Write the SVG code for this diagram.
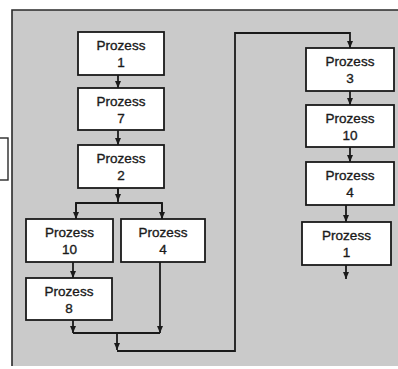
<svg xmlns="http://www.w3.org/2000/svg" width="398" height="369" viewBox="0 0 398 369">
<style>
.box{fill:#fff;stroke:#1a1a1a;stroke-width:1.8}
.t{font-family:"Liberation Sans",Arial,sans-serif;font-size:13.5px;fill:#1a1a1a;stroke:#1a1a1a;stroke-width:0.35;text-anchor:middle}
.c{fill:none;stroke:#1a1a1a;stroke-width:1.8}
</style>
<defs>
<marker id="ah" markerUnits="userSpaceOnUse" markerWidth="8" markerHeight="8" refX="7" refY="4" orient="auto">
<path d="M0,1 L7,4 L0,7 Z" fill="#1a1a1a"/>
</marker>
</defs>
<rect x="0" y="0" width="398" height="369" fill="#fff"/>
<rect x="12" y="10" width="390" height="356" fill="#cacaca"/>
<path d="M12,366 V10 H398" fill="none" stroke="#2a2a2a" stroke-width="1.6"/>
<rect x="-2" y="138" width="10" height="42" fill="#fff" stroke="#2a2a2a" stroke-width="1.4"/>
<g id="connectors">
<path class="c" d="M118,75 V88" marker-end="url(#ah)"/>
<path class="c" d="M118,130 V145" marker-end="url(#ah)"/>
<path class="c" d="M118,188 V203"/>
<path class="c" d="M118,188 V201" marker-end="url(#ah)"/>
<path class="c" d="M76,219 V203 H162 V219"/>
<path class="c" d="M76,203 V219" marker-end="url(#ah)"/>
<path class="c" d="M162,203 V219" marker-end="url(#ah)"/>
<path class="c" d="M73,262 V278" marker-end="url(#ah)"/>
<path class="c" d="M73,320 V333" marker-end="url(#ah)"/>
<path class="c" d="M160,262 V333" marker-end="url(#ah)"/>
<path class="c" d="M73,333 H160"/>
<path class="c" d="M117,333 V350" marker-end="url(#ah)"/>
<path class="c" d="M117,351 H235 V33 H350 V48" marker-end="url(#ah)"/>
<path class="c" d="M350,91 V105" marker-end="url(#ah)"/>
<path class="c" d="M350,147 V162" marker-end="url(#ah)"/>
<path class="c" d="M346,205 V222" marker-end="url(#ah)"/>
<path class="c" d="M346,265 V279" marker-end="url(#ah)"/>
</g>
<g id="p1"><rect class="box" x="78" y="32" width="86" height="43"/><text class="t" x="121" y="50">Prozess</text><text class="t" x="121" y="67">1</text></g>
<g id="p7"><rect class="box" x="78" y="88" width="86" height="42"/><text class="t" x="121" y="106">Prozess</text><text class="t" x="121" y="123">7</text></g>
<g id="p2"><rect class="box" x="78" y="145" width="86" height="43"/><text class="t" x="121" y="163">Prozess</text><text class="t" x="121" y="180">2</text></g>
<g id="p10a"><rect class="box" x="26" y="219" width="87" height="43"/><text class="t" x="69.5" y="237">Prozess</text><text class="t" x="69.5" y="254">10</text></g>
<g id="p4a"><rect class="box" x="121" y="219" width="84" height="43"/><text class="t" x="163" y="237">Prozess</text><text class="t" x="163" y="254">4</text></g>
<g id="p8"><rect class="box" x="26" y="278" width="86" height="42"/><text class="t" x="69" y="296">Prozess</text><text class="t" x="69" y="313">8</text></g>
<g id="p3"><rect class="box" x="306" y="48" width="88" height="43"/><text class="t" x="350" y="66">Prozess</text><text class="t" x="350" y="83">3</text></g>
<g id="p10b"><rect class="box" x="306" y="105" width="88" height="42"/><text class="t" x="350" y="123">Prozess</text><text class="t" x="350" y="140">10</text></g>
<g id="p4b"><rect class="box" x="306" y="162" width="88" height="43"/><text class="t" x="350" y="180">Prozess</text><text class="t" x="350" y="197">4</text></g>
<g id="p1b"><rect class="box" x="302" y="222" width="89" height="43"/><text class="t" x="346.5" y="240">Prozess</text><text class="t" x="346.5" y="257">1</text></g>
</svg>
